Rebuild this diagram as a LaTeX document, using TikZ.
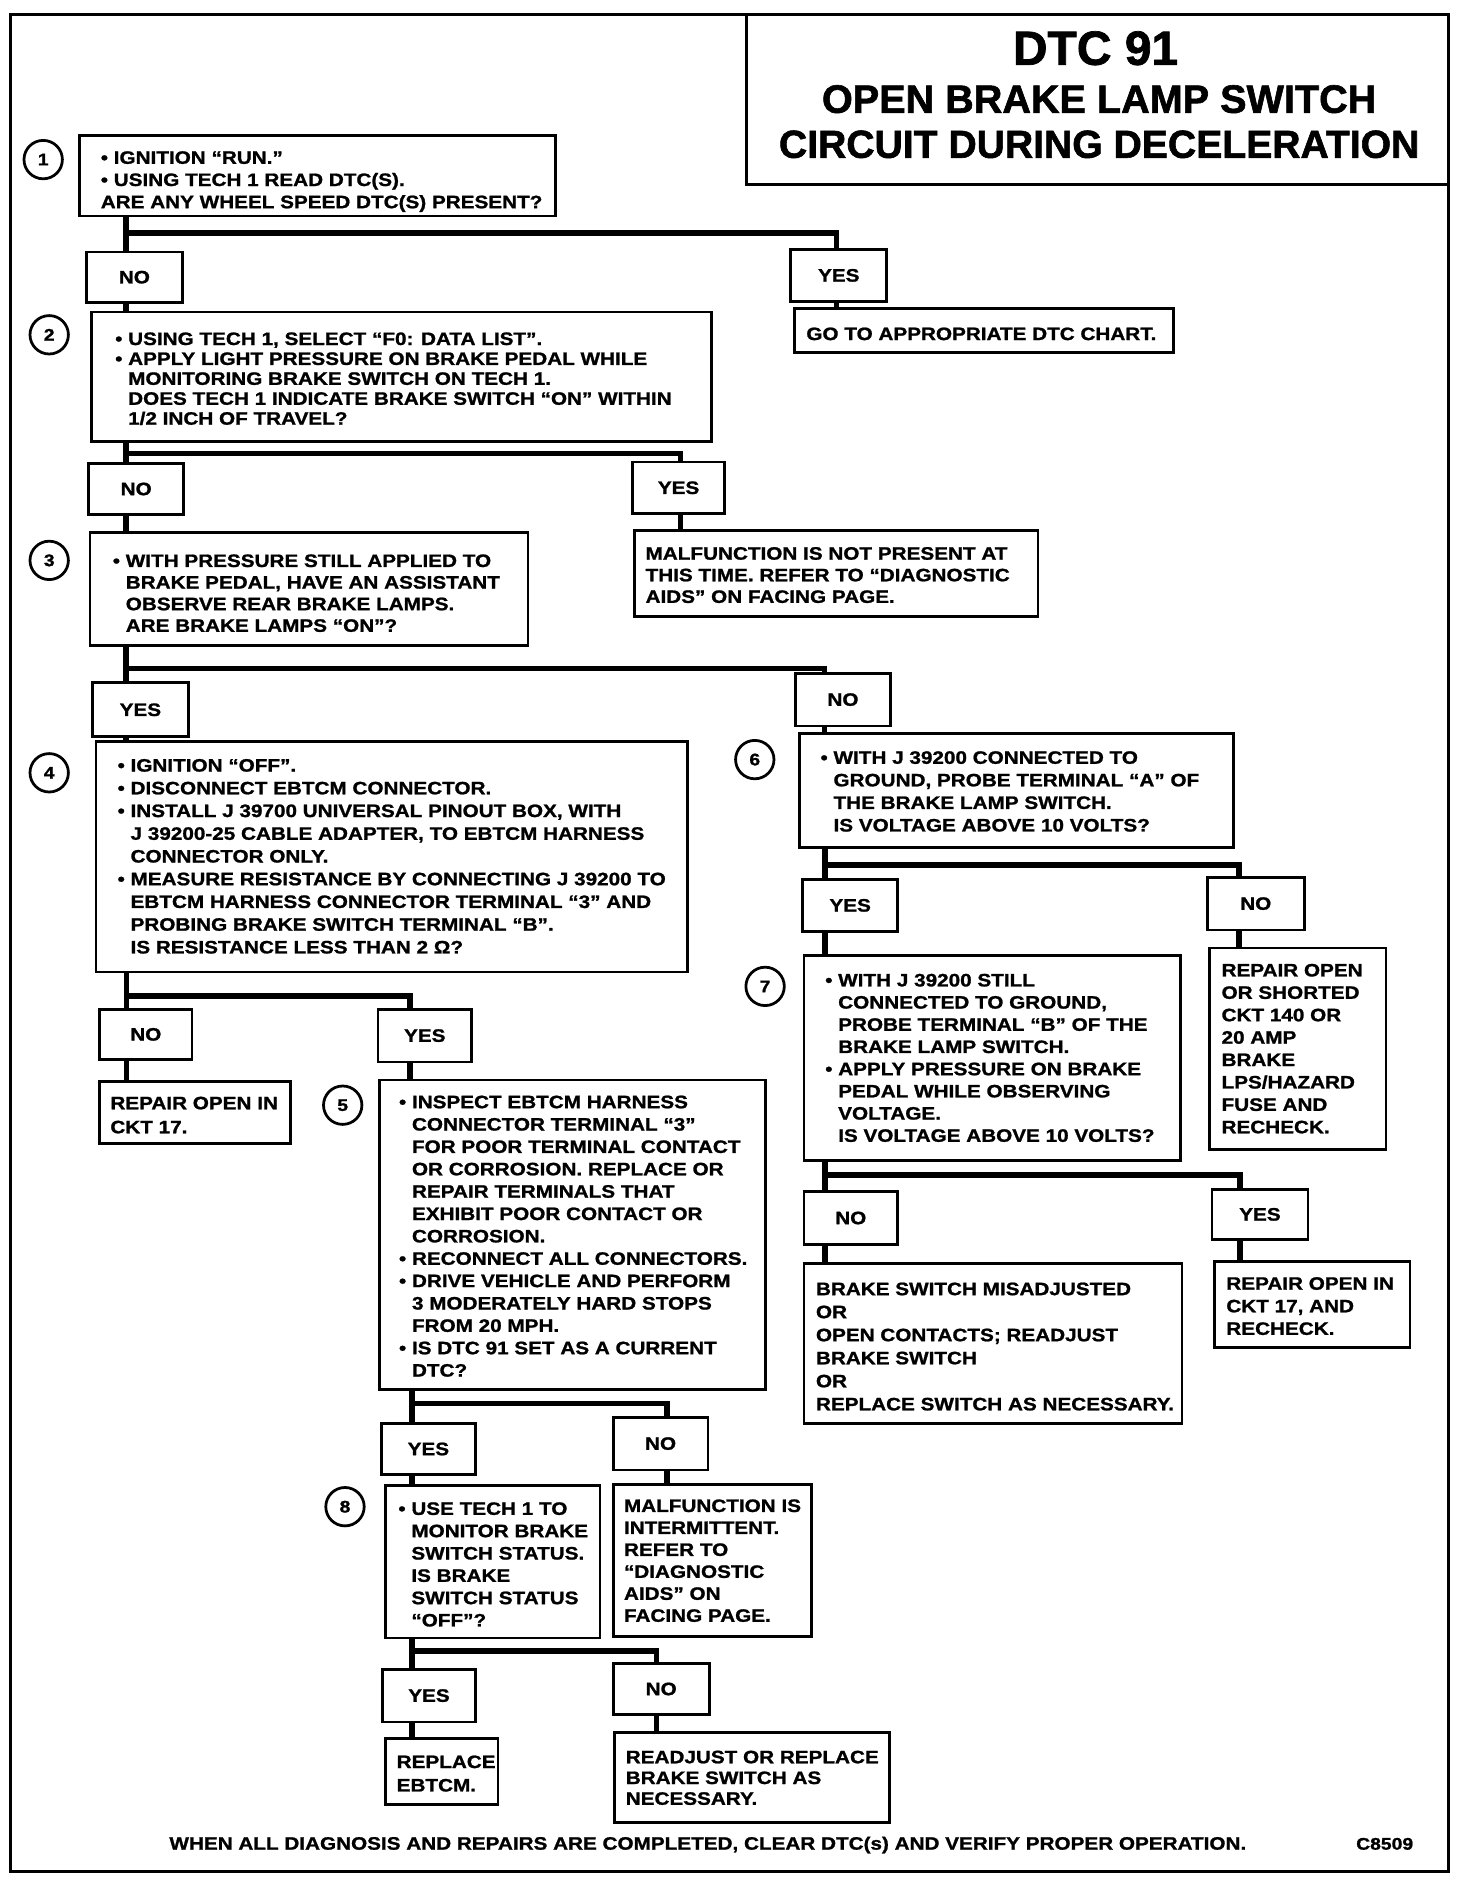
\documentclass[tikz,border=0pt]{standalone}
\usepackage{fontspec}
\newfontfamily\bodyf{Liberation Sans}[FakeStretch=1.15, BoldFeatures={FakeBold=1.2}]
\newfontfamily\titlef{Liberation Sans}[BoldFeatures={FakeBold=1.5}]
\newcommand\bul{•\ }
\newcommand\indt{\hphantom{•\ }}
\newcommand\bx[5]{\node[bxs, minimum width={(#4-#2)*1pt}, minimum height={(#5-#3)*1pt}] (#1) at ({(#2+#4)/2},{(#3+#5)/2}) {};}
\newcommand\lb[6]{\node[bxs, lbl, minimum width={(#4-#2)*1pt}, minimum height={(#5-#3)*1pt}] (#1) at ({(#2+#4)/2},{(#3+#5)/2}) {#6};}
\newcommand\tx[5]{\node[txt, font=\bodyf\bfseries\fontsize{15}{#4}\selectfont] (#1) at (#2,{#3-12}) {\rule{0pt}{12pt}#5};}
\tikzset{
  bxs/.style={draw, line width=2.4pt, rectangle, inner sep=0pt, outer sep=0pt},
  lbl/.style={font=\bodyf\bfseries\fontsize{15}{18}\selectfont},
  txt/.style={inner sep=0pt, outer sep=0pt, align=left, anchor=north west},
  conn/.style={line width=4.8pt, line join=miter},
  circ/.style={draw, circle, line width=2.3pt, minimum size=32pt, inner sep=0pt, font=\bodyf\bfseries\fontsize{14}{14}\selectfont},
  ttl/.style={inner sep=0pt, anchor=base}
}
\begin{document}
\begin{tikzpicture}[x=1pt,y=-1pt]
\useasboundingbox (0,0) rectangle (1226.7,1566.7);
% frame and title
\draw[line width=2.5pt] (9,12) rectangle (1207,1560);
\draw[line width=2.5pt] (622,12) |- (1207,154);
\node[ttl, font=\titlef\bfseries\fontsize{40}{40}\selectfont] (title1) at (913,54) {DTC 91};
\node[ttl, font=\titlef\bfseries\fontsize{33}{33}\selectfont] (title2) at (916,94) {OPEN BRAKE LAMP SWITCH};
\node[ttl, font=\titlef\bfseries\fontsize{32.6}{33}\selectfont] (title3) at (916,131.5) {CIRCUIT DURING DECELERATION};

% step circles
\node[circ] (c1) at (36,133) {1};
\node[circ] (c2) at (41,279) {2};
\node[circ] (c3) at (41,467) {3};
\node[circ] (c4) at (41,644) {4};
\node[circ] (c5) at (285.6,921) {5};
\node[circ] (c6) at (629,633) {6};
\node[circ] (c7) at (637.6,822) {7};
\node[circ] (c8) at (287.5,1255.6) {8};

% boxes
\bx{b1}{66}{113}{463}{180}
\tx{b1t}{84}{136.5}{18.5}{\bul IGNITION “RUN.”\\ \bul USING TECH 1 READ DTC(S).\\ ARE ANY WHEEL SPEED DTC(S) PRESENT?}
\lb{no1}{72}{210}{152}{252}{NO}
\lb{yes1}{659}{208}{739}{251}{YES}
\bx{goto}{662}{257}{978}{294}
\tx{gotot}{672}{283.4}{18}{GO TO APPROPRIATE DTC CHART.}

\bx{b2}{76}{260}{593}{368}
\tx{b2t}{96}{287.5}{16.6}{\bul USING TECH 1, SELECT “F0: DATA LIST”.\\ \bul APPLY LIGHT PRESSURE ON BRAKE PEDAL WHILE\\ \indt MONITORING BRAKE SWITCH ON TECH 1.\\ \indt DOES TECH 1 INDICATE BRAKE SWITCH “ON” WITHIN\\ \indt 1/2 INCH OF TRAVEL?}
\lb{no2}{74}{386}{153}{429}{NO}
\lb{yes2}{527}{385}{604}{428}{YES}
\bx{malf1}{529}{442}{865}{514}
\tx{malf1t}{538}{466.4}{18}{MALFUNCTION IS NOT PRESENT AT\\ THIS TIME. REFER TO “DIAGNOSTIC\\ AIDS” ON FACING PAGE.}

\bx{b3}{75}{444}{440}{538}
\tx{b3t}{94}{472.5}{18}{\bul WITH PRESSURE STILL APPLIED TO\\ \indt BRAKE PEDAL, HAVE AN ASSISTANT\\ \indt OBSERVE REAR BRAKE LAMPS.\\ \indt ARE BRAKE LAMPS “ON”?}
\lb{yes3}{77}{569}{157}{614}{YES}
\lb{no3}{663}{561}{742}{605}{NO}

\bx{b4}{80}{618}{573}{810}
\tx{b4t}{98}{643}{18.94}{\bul IGNITION “OFF”.\\ \bul DISCONNECT EBTCM CONNECTOR.\\ \bul INSTALL J 39700 UNIVERSAL PINOUT BOX, WITH\\ \indt J 39200-25 CABLE ADAPTER, TO EBTCM HARNESS\\ \indt CONNECTOR ONLY.\\ \bul MEASURE RESISTANCE BY CONNECTING J 39200 TO\\ \indt EBTCM HARNESS CONNECTOR TERMINAL “3” AND\\ \indt PROBING BRAKE SWITCH TERMINAL “B”.\\ \indt IS RESISTANCE LESS THAN 2 Ω?}
\lb{no4}{83}{841}{160}{883}{NO}
\lb{yes4}{315}{841}{393}{885}{YES}
\bx{rep1}{83}{901}{242}{953}
\tx{rep1t}{92}{924.4}{20}{REPAIR OPEN IN\\ CKT 17.}

\bx{b5}{316}{900}{638}{1158}
\tx{b5t}{332.5}{923.5}{18.64}{\bul INSPECT EBTCM HARNESS\\ \indt CONNECTOR TERMINAL “3”\\ \indt FOR POOR TERMINAL CONTACT\\ \indt OR CORROSION. REPLACE OR\\ \indt REPAIR TERMINALS THAT\\ \indt EXHIBIT POOR CONTACT OR\\ \indt CORROSION.\\ \bul RECONNECT ALL CONNECTORS.\\ \bul DRIVE VEHICLE AND PERFORM\\ \indt 3 MODERATELY HARD STOPS\\ \indt FROM 20 MPH.\\ \bul IS DTC 91 SET AS A CURRENT\\ \indt DTC?}
\lb{yes5}{318}{1186}{396}{1229}{YES}
\lb{no5}{511}{1181}{590}{1225}{NO}

\bx{b8}{321}{1238}{500}{1365}
\tx{b8t}{332}{1262.4}{18.6}{\bul USE TECH 1 TO\\ \indt MONITOR BRAKE\\ \indt SWITCH STATUS.\\ \indt IS BRAKE\\ \indt SWITCH STATUS\\ \indt “OFF”?}
\bx{malf2}{511}{1237}{676}{1364}
\tx{malf2t}{520}{1260}{18.3}{MALFUNCTION IS\\ INTERMITTENT.\\ REFER TO\\ “DIAGNOSTIC\\ AIDS” ON\\ FACING PAGE.}
\lb{yes6}{319}{1391}{396}{1435}{YES}
\lb{no6}{511}{1386}{591}{1429}{NO}
\bx{repl}{321}{1449}{415}{1504}
\tx{replt}{330.6}{1473.4}{19.5}{REPLACE\\ EBTCM.}
\bx{readj}{512}{1444}{741}{1519}
\tx{readjt}{521.5}{1469.4}{17.3}{READJUST OR REPLACE\\ BRAKE SWITCH AS\\ NECESSARY.}

\bx{b6}{666}{611}{1028}{706}
\tx{b6t}{683.8}{636.5}{18.8}{\bul WITH J 39200 CONNECTED TO\\ \indt GROUND, PROBE TERMINAL “A” OF\\ \indt THE BRAKE LAMP SWITCH.\\ \indt IS VOLTAGE ABOVE 10 VOLTS?}
\lb{yes7}{669}{733}{748}{776}{YES}
\lb{no7}{1006}{731}{1087}{775}{NO}
\bx{b7}{670}{796}{984}{967}
\tx{b7t}{687.7}{822}{18.5}{\bul WITH J 39200 STILL\\ \indt CONNECTED TO GROUND,\\ \indt PROBE TERMINAL “B” OF THE\\ \indt BRAKE LAMP SWITCH.\\ \bul APPLY PRESSURE ON BRAKE\\ \indt PEDAL WHILE OBSERVING\\ \indt VOLTAGE.\\ \indt IS VOLTAGE ABOVE 10 VOLTS?}
\bx{rep2}{1008}{790}{1155}{958}
\tx{rep2t}{1018}{813.7}{18.67}{REPAIR OPEN\\ OR SHORTED\\ CKT 140 OR\\ 20 AMP\\ BRAKE\\ LPS/HAZARD\\ FUSE AND\\ RECHECK.}
\lb{no8}{670}{993}{748}{1037}{NO}
\lb{yes8}{1010}{991}{1090}{1033}{YES}
\bx{mis}{670}{1053}{985}{1186}
\tx{mist}{680}{1079.3}{19.2}{BRAKE SWITCH MISADJUSTED\\ OR\\ OPEN CONTACTS; READJUST\\ BRAKE SWITCH\\ OR\\ REPLACE SWITCH AS NECESSARY.}
\bx{rep3}{1012}{1051}{1175}{1123}
\tx{rep3t}{1022}{1074.8}{18.8}{REPAIR OPEN IN\\ CKT 17, AND\\ RECHECK.}

% junctions
\coordinate (j1) at (105,194);   \coordinate (r1) at (697,194);
\coordinate (j2) at (105,378);   \coordinate (r2) at (567,378);
\coordinate (j3) at (105,557);   \coordinate (r3) at (687,557);
\coordinate (j4) at (105.5,830); \coordinate (r4) at (341.5,830);
\coordinate (j5) at (343.6,1169.5); \coordinate (r5) at (556,1169.5);
\coordinate (j8) at (343.6,1376);   \coordinate (r8) at (547,1376);
\coordinate (j6) at (687.7,721); \coordinate (r6) at (1032.6,721);
\coordinate (j7) at (687.7,979); \coordinate (r7) at (1033.6,979);

% connectors
\draw[conn] (b1.south -| j1) -- (j1) -- (r1) -- (yes1.north -| r1);
\draw[conn] (j1) -- (no1.north -| j1);
\draw[conn] (yes1.south -| r1) -- (goto.north -| r1);
\draw[conn] (no1.south -| j1) -- (b2.north -| j1);

\draw[conn] (b2.south -| j2) -- (j2) -- (r2) -- (yes2.north -| r2);
\draw[conn] (j2) -- (no2.north -| j2);
\draw[conn] (yes2.south -| r2) -- (malf1.north -| r2);
\draw[conn] (no2.south -| j2) -- (b3.north -| j2);

\draw[conn] (b3.south -| j3) -- (j3) -- (r3) -- (no3.north -| r3);
\draw[conn] (j3) -- (yes3.north -| j3);
\draw[conn] (yes3.south -| j3) -- (b4.north -| j3);
\draw[conn] (no3.south -| r3) -- (b6.north -| r3);

\draw[conn] (b4.south -| j4) -- (j4) -- (r4) -- (yes4.north -| r4);
\draw[conn] (j4) -- (no4.north -| j4);
\draw[conn] (no4.south -| j4) -- (rep1.north -| j4);
\draw[conn] (yes4.south -| r4) -- (b5.north -| r4);

\draw[conn] (b5.south -| j5) -- (j5) -- (r5) -- (no5.north -| r5);
\draw[conn] (j5) -- (yes5.north -| j5);
\draw[conn] (yes5.south -| j5) -- (b8.north -| j5);
\draw[conn] (no5.south -| r5) -- (malf2.north -| r5);

\draw[conn] (b8.south -| j8) -- (j8) -- (r8) -- (no6.north -| r8);
\draw[conn] (j8) -- (yes6.north -| j8);
\draw[conn] (yes6.south -| j8) -- (repl.north -| j8);
\draw[conn] (no6.south -| r8) -- (readj.north -| r8);

\draw[conn] (b6.south -| j6) -- (j6) -- (r6) -- (no7.north -| r6);
\draw[conn] (j6) -- (yes7.north -| j6);
\draw[conn] (yes7.south -| j6) -- (b7.north -| j6);
\draw[conn] (no7.south -| r6) -- (rep2.north -| r6);

\draw[conn] (b7.south -| j7) -- (j7) -- (r7) -- (yes8.north -| r7);
\draw[conn] (j7) -- (no8.north -| j7);
\draw[conn] (no8.south -| j7) -- (mis.north -| j7);
\draw[conn] (yes8.south -| r7) -- (rep3.north -| r7);

% footer
\node[inner sep=0pt, anchor=base west, font=\bodyf\bfseries\fontsize{15}{18}\selectfont] (foot) at (141,1541.4) {WHEN ALL DIAGNOSIS AND REPAIRS ARE COMPLETED, CLEAR DTC(s) AND VERIFY PROPER OPERATION.};
\node[inner sep=0pt, anchor=base west, font=\bodyf\bfseries\fontsize{14}{16}\selectfont] (code) at (1130,1541.4) {C8509};
\end{tikzpicture}
\end{document}
